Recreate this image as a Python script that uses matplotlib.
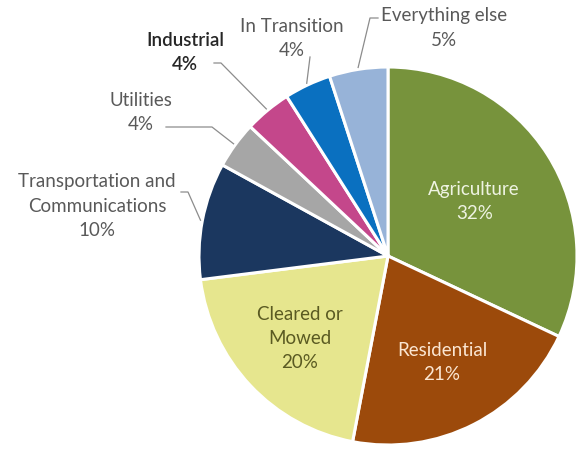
import numpy as np
import matplotlib
matplotlib.use('Agg')
import matplotlib.pyplot as plt

plt.rcParams['font.family'] = ['Lato', 'DejaVu Sans']

# land use shares, clockwise from 12 o'clock
categories = ['Agriculture', 'Residential', 'Cleared or\nMowed',
              'Transportation and\nCommunications', 'Utilities', 'Industrial',
              'In Transition', 'Everything else']
shares = [32, 21, 20, 10, 4, 4, 4, 5]
colors = ['#77933C', '#9C4A0B', '#E6E68E', '#1B375F',
          '#A6A6A6', '#C4478B', '#0A70C0', '#97B3D8']

W, H = 579, 449
CX, CY, R = 388, H - 256, 189
FS = 13.5


def img(x, y):
    # figure pixels, top-left origin -> axes coords
    return x, H - y


fig = plt.figure(figsize=(W / 100, H / 100), dpi=100)
ax = fig.add_axes([0, 0, 1, 1])

wedges, _ = ax.pie(shares, colors=colors, startangle=90, counterclock=False,
                   center=(CX, CY), radius=R, frame=True,
                   wedgeprops=dict(edgecolor='white', linewidth=2.2))
ax.set_xlim(0, W)
ax.set_ylim(0, H)
ax.set_aspect('equal')
ax.axis('off')


def mid_angle(w):
    return np.deg2rad((w.theta1 + w.theta2) / 2)


# labels inside the big slices
inside = {0: (0.54, '#EEF3E2'), 1: (0.63, '#FBE6D2'), 2: (0.64, '#5A5A22')}
for i, (frac, tc) in inside.items():
    a = mid_angle(wedges[i])
    ax.text(CX + frac * R * np.cos(a), CY + frac * R * np.sin(a),
            f'{categories[i]}\n{shares[i]}%', ha='center', va='center',
            fontsize=FS, color=tc, linespacing=1.5)

# outside labels: text centre, leader start, leader elbow (figure pixels)
outside = {
    3: ((97, 206), (181, 192), (188, 192)),
    4: ((141, 113), (166, 127), (212, 127)),
    5: ((185, 53), (214, 63), (221, 63)),
    6: ((292, 38), (310, 57), (310, 57)),
    7: ((444, 28), (378, 18), (370, 18)),
}
for i, (pos, start, elbow) in outside.items():
    bold = categories[i] == 'Industrial'
    ax.text(*img(*pos), f'{categories[i]}\n{shares[i]}%', ha='center',
            va='center', fontsize=FS, linespacing=1.5,
            color='#262626' if bold else '#595959',
            fontweight='semibold' if bold else 'normal')
    a = mid_angle(wedges[i])
    end = (CX + 1.01 * R * np.cos(a), CY + 1.01 * R * np.sin(a))
    xs = [img(*start)[0], img(*elbow)[0], end[0]]
    ys = [img(*start)[1], img(*elbow)[1], end[1]]
    ax.plot(xs, ys, color='#8C8C8C', linewidth=0.9)

fig.savefig('out.png', dpi=100, facecolor='white')
